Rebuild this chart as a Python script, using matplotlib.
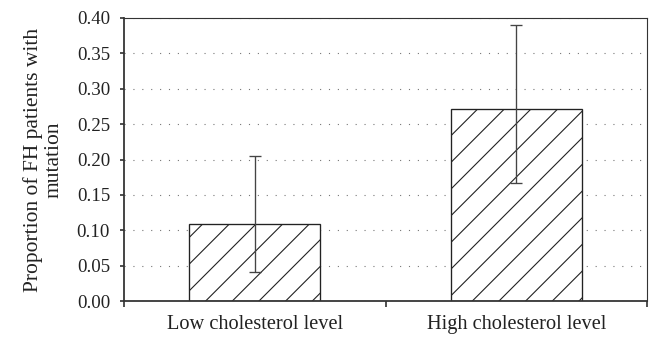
import numpy as np
import matplotlib.pyplot as plt

# values
categories = ['Low cholesterol level', 'High cholesterol level']
proportion = [0.109, 0.271]
ci_low = [0.041, 0.167]
ci_high = [0.205, 0.390]
yticks = [0.00, 0.05, 0.10, 0.15, 0.20, 0.25, 0.30, 0.35, 0.40]

# higher dpi so the hatch lines come out as sparse as in the original
DPI = 160
W, H = 649, 338

plt.rcParams['font.family'] = ['Liberation Serif', 'DejaVu Serif']
plt.rcParams['hatch.linewidth'] = 0.5
plt.rcParams['hatch.color'] = '#222222'

fig = plt.figure(figsize=(W / DPI, H / DPI), dpi=DPI)
ax = fig.add_axes([124 / W, 37 / H, 523 / W, 283 / H])

x = np.arange(len(categories))
p = np.array(proportion)
yerr = [p - np.array(ci_low), np.array(ci_high) - p]
ax.bar(x, proportion, width=0.5, color='white', edgecolor='#222222', linewidth=0.6,
       hatch='//', zorder=2)
ax.errorbar(x, proportion, yerr=yerr, fmt='none', ecolor='#444444', elinewidth=0.6,
            capsize=2.7, capthick=0.6, zorder=3)

ax.set_xlim(-0.5, 1.5)
ax.set_ylim(0, 0.40)
ax.set_yticks(yticks)
ax.set_yticklabels([f'{v:.2f}' for v in yticks])
ax.set_xticks([-0.5, 0.5, 1.5])
ax.set_xticklabels(['', '', ''])
ax.set_xticks(x, minor=True)
ax.set_xticklabels(categories, minor=True)
ax.tick_params(axis='x', which='minor', length=0, pad=6.5, labelsize=9.2, labelcolor='#222222')
ax.tick_params(axis='x', which='major', length=2.5, width=0.7, direction='out', color='#222222')
ax.tick_params(axis='y', length=1.8, width=0.7, direction='out', pad=4.5, labelsize=8.5,
               labelcolor='#222222', color='#222222')

ax.yaxis.grid(True, linestyle=(0, (1, 7)), color='#777777', linewidth=0.5, zorder=0)
ax.set_axisbelow(True)
for s in ax.spines.values():
    s.set_color('#333333')
    s.set_linewidth(0.5)
ax.spines['bottom'].set_linewidth(0.8)
ax.spines['left'].set_linewidth(0.8)

ax.set_ylabel('Proportion of FH patients with\nmutation', fontsize=9.7, color='#222222',
              linespacing=1.15)
ax.yaxis.set_label_coords(-0.115, 0.5)

fig.savefig('out.png', dpi=DPI)
